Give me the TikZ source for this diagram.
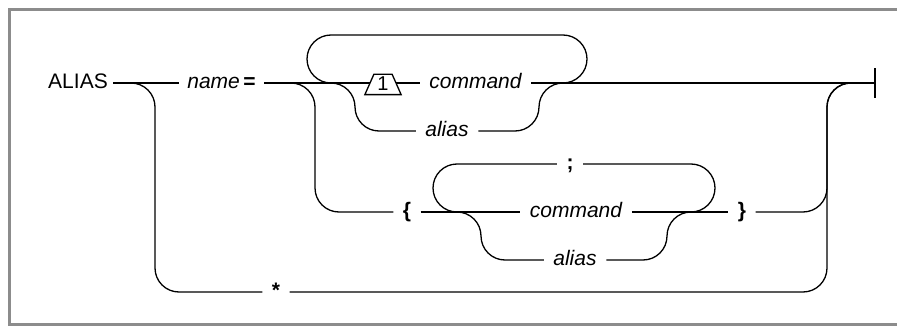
\documentclass[tikz,border=0pt]{standalone}
\usepackage{fontspec}
\setmainfont{Liberation Sans}
\definecolor{framegray}{RGB}{140,140,140}
\begin{document}
\begin{tikzpicture}[x=1pt,y=-1pt, line width=1.3pt,
  lbl/.style={inner xsep=9pt, inner ysep=0pt, text height=15pt, text depth=4pt, font=\fontsize{21}{25}\selectfont},
  it/.style={lbl, font=\fontsize{21}{25}\selectfont\itshape},
  bf/.style={lbl, font=\fontsize{21}{25}\selectfont\bfseries},
  rr/.style={rounded corners=24pt},
  frame/.style={draw=framegray, line width=3pt}]

\useasboundingbox (0,0) rectangle (897,326);
\draw[frame] (897,9.5) -- (9.5,9.5) -- (9.5,324.5) -- (897,324.5);

% nodes
\node[lbl, inner xsep=5pt] (alias0) at (78,83) {ALIAS};
\node[lbl, inner xsep=8pt] (name) at (221.5,83) {\textit{name}\,\textbf{=}};
\coordinate (j1) at (131,83);
\coordinate (j2) at (291,83);
\coordinate (L1) at (331,83);
\coordinate (R1) at (563,83);
\coordinate (j3) at (851,83);
\coordinate (E) at (875,83);
\node[inner sep=0pt, minimum width=35pt, minimum height=19pt, text height=13pt, text depth=0pt, font=\fontsize{20}{22}\selectfont] (t1) at (383,84.5) {1};
\node[it] (cmd1) at (475.5,83) {command};
\node[it] (al1) at (447,131) {alias};
\node[bf] (lb) at (407,212) {\{};
\coordinate (L2) at (457,212);
\coordinate (R2) at (691,212);
\node[bf] (semi) at (570,164) {;};
\node[it] (cmd2) at (576,212) {command};
\node[it] (al2) at (575,260) {alias};
\node[bf] (rb) at (742,212) {\}};
\node[bf] (star) at (276,292) {*};

% main line
\draw (alias0) -- (name);
\draw (name) -- (L1);
\draw (L1) -- ([xshift=5pt]t1.west |- L1);
\draw ([xshift=-5pt]t1.east |- L1) -- (cmd1);
\draw (cmd1) -- (R1) -- (E);
\draw ([yshift=-15pt]E) -- ([yshift=15pt]E);
\draw (t1.south west) -- ([xshift=9pt]t1.north west) -- ([xshift=-9pt]t1.north east) -- (t1.south east) -- cycle;

% block 1
\draw[rr] (L1) -- (307,83) -- (307,35) -- (587,35) -- (587,83) -- (R1);
\draw[rr] (L1) -- (355,83) -- (355,131) -- (al1);
\draw[rr] (al1) -- (539,131) -- (539,83) -- (R1);

% star branch
\draw[rr] (j1) -- (155,83) -- (155,292) -- (star);
\draw[rr] (star) -- (827,292) -- (827,83) -- (j3);

% brace branch
\draw[rr] (j2) -- (315,83) -- (315,212) -- (lb);
\draw (lb) -- (L2) -- (cmd2);
\draw (cmd2) -- (R2) -- (rb);
\draw[rr] (rb) -- (827,212) -- (827,83) -- (j3);

% block 2
\draw[rr] (L2) -- (433,212) -- (433,164) -- (semi);
\draw[rr] (semi) -- (715,164) -- (715,212) -- (R2);
\draw[rr] (L2) -- (481,212) -- (481,260) -- (al2);
\draw[rr] (al2) -- (667,260) -- (667,212) -- (R2);
\end{tikzpicture}
\end{document}
